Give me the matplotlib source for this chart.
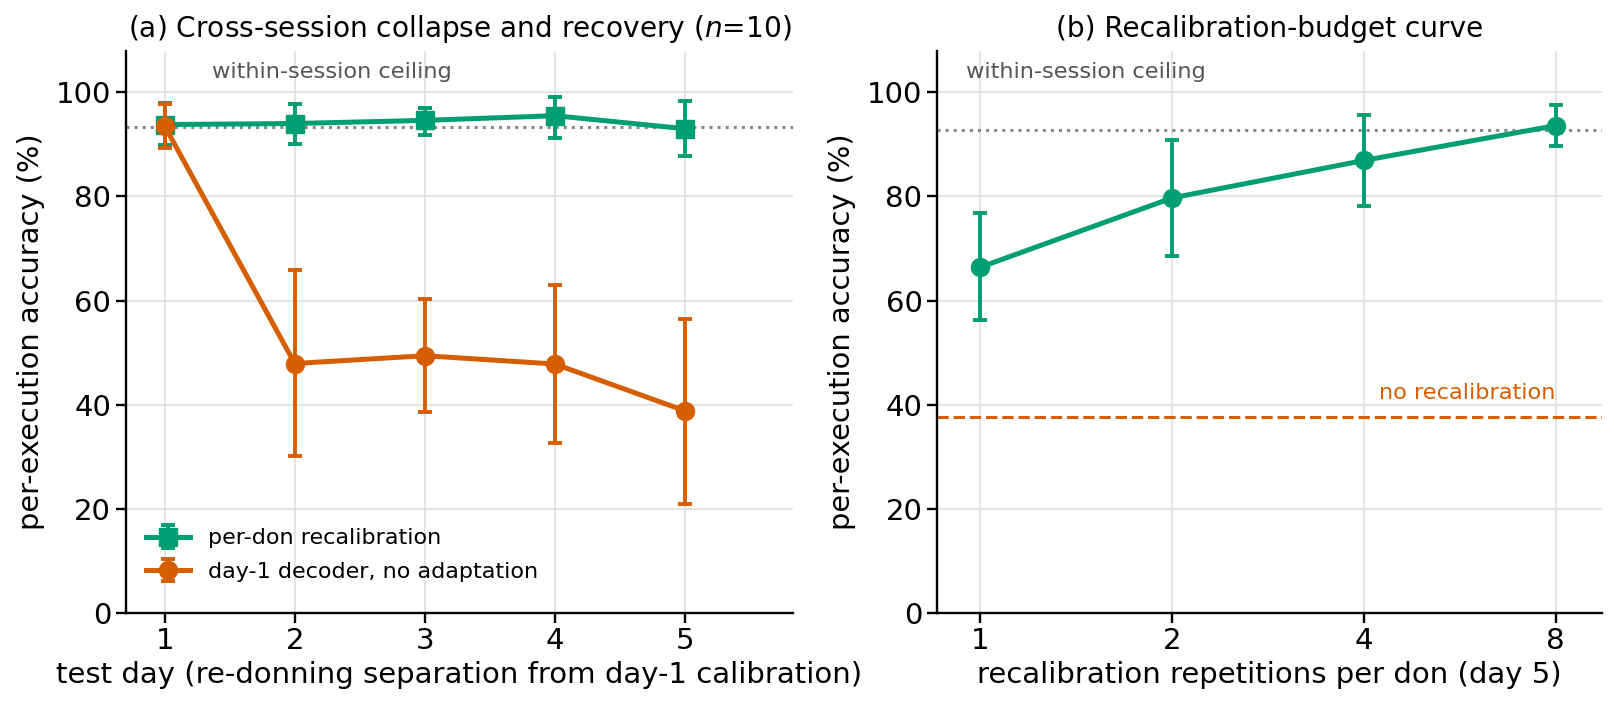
import numpy as np
import matplotlib.pyplot as plt
from matplotlib.ticker import NullLocator, FixedLocator, FixedFormatter

# panel (a): accuracy per test day
days = [1, 2, 3, 4, 5]
recal_mean = [93.8, 94.0, 94.6, 95.5, 93.0]
recal_lo = [89.8, 90.1, 91.7, 91.3, 87.7]
recal_hi = [98.0, 97.8, 97.0, 99.1, 98.4]
day1_mean = [93.5, 47.9, 49.4, 47.8, 38.8]
day1_lo = [89.3, 30.1, 38.5, 32.6, 20.9]
day1_hi = [97.8, 65.8, 60.3, 62.9, 56.5]
ceiling_a = 93.3

# panel (b): recalibration budget
reps = [1, 2, 4, 8]
budget_mean = [66.4, 79.7, 86.9, 93.6]
budget_lo = [56.3, 68.5, 78.2, 89.6]
budget_hi = [76.8, 90.9, 95.7, 97.5]
ceiling_b = 92.7
no_recal = 37.7

GREEN = '#009E73'
ORANGE = '#D55E00'

plt.rcParams['font.family'] = ['DejaVu Sans']

fig = plt.figure(figsize=(16.15, 7.11), dpi=100)
ax1 = fig.add_axes([0.0778, 0.138, 0.4132, 0.7908])
ax2 = fig.add_axes([0.5802, 0.138, 0.4115, 0.7908])


def yerr(mean, lo, hi):
    m = np.array(mean)
    return [m - np.array(lo), np.array(hi) - m]


for ax in (ax1, ax2):
    ax.spines['top'].set_visible(False)
    ax.spines['right'].set_visible(False)
    ax.spines['left'].set_linewidth(1.7)
    ax.spines['bottom'].set_linewidth(1.7)
    ax.grid(True, color='#dddddd', linewidth=1.4, alpha=0.8)
    ax.set_axisbelow(True)
    ax.set_ylim(0, 108)
    ax.set_yticks([0, 20, 40, 60, 80, 100])
    ax.tick_params(labelsize=21, width=1.7, length=7)
    ax.set_ylabel('per-execution accuracy (%)', fontsize=20.8, labelpad=8)

ebkw = dict(markersize=13, linewidth=3.6, elinewidth=2.8, capsize=5, capthick=2.8)

# ---- panel (a)
ax1.axhline(ceiling_a, color='#888888', linestyle=':', linewidth=2.2, zorder=1)
ax1.errorbar(days, recal_mean, yerr=yerr(recal_mean, recal_lo, recal_hi),
             color=GREEN, marker='s', label='per-don recalibration', zorder=3, **ebkw)
ax1.errorbar(days, day1_mean, yerr=yerr(day1_mean, day1_lo, day1_hi),
             color=ORANGE, marker='o', label='day-1 decoder, no adaptation', zorder=4, **ebkw)
ax1.set_xlim(0.7, 5.83)
ax1.set_xticks(days)
ax1.set_xlabel('test day (re-donning separation from day-1 calibration)', fontsize=21)
ax1.set_title('(a) Cross-session collapse and recovery ($n$=10)', fontsize=20.2, pad=10)
ax1.text(0.13, 103.8, 'within-session ceiling', transform=ax1.get_yaxis_transform(),
         color='#555555', fontsize=16.2, va='center', ha='left')
ax1.legend(loc='lower left', frameon=False, fontsize=16,
           bbox_to_anchor=(0.0, 0.02), handlelength=2.0, labelspacing=0.6)

# ---- panel (b)
ax2.axhline(ceiling_b, color='#888888', linestyle=':', linewidth=2.2, zorder=1)
ax2.axhline(no_recal, color=ORANGE, linestyle='--', linewidth=2.2, zorder=1)
ax2.errorbar(reps, budget_mean, yerr=yerr(budget_mean, budget_lo, budget_hi),
             color=GREEN, marker='o', zorder=3, **ebkw)
ax2.set_xscale('log', base=2)
ax2.set_xlim(2 ** -0.226, 2 ** 3.24)
ax2.xaxis.set_major_locator(FixedLocator(reps))
ax2.xaxis.set_major_formatter(FixedFormatter([str(r) for r in reps]))
ax2.xaxis.set_minor_locator(NullLocator())
ax2.set_xlabel('recalibration repetitions per don (day 5)', fontsize=21)
ax2.set_title('(b) Recalibration-budget curve', fontsize=20.2, pad=10)
ax2.text(0.043, 103.8, 'within-session ceiling', transform=ax2.get_yaxis_transform(),
         color='#555555', fontsize=16.2, va='center', ha='left')
ax2.text(8, 42.2, 'no recalibration', color=ORANGE, fontsize=16.2,
         va='center', ha='right')

fig.savefig('out.png', dpi=100)
